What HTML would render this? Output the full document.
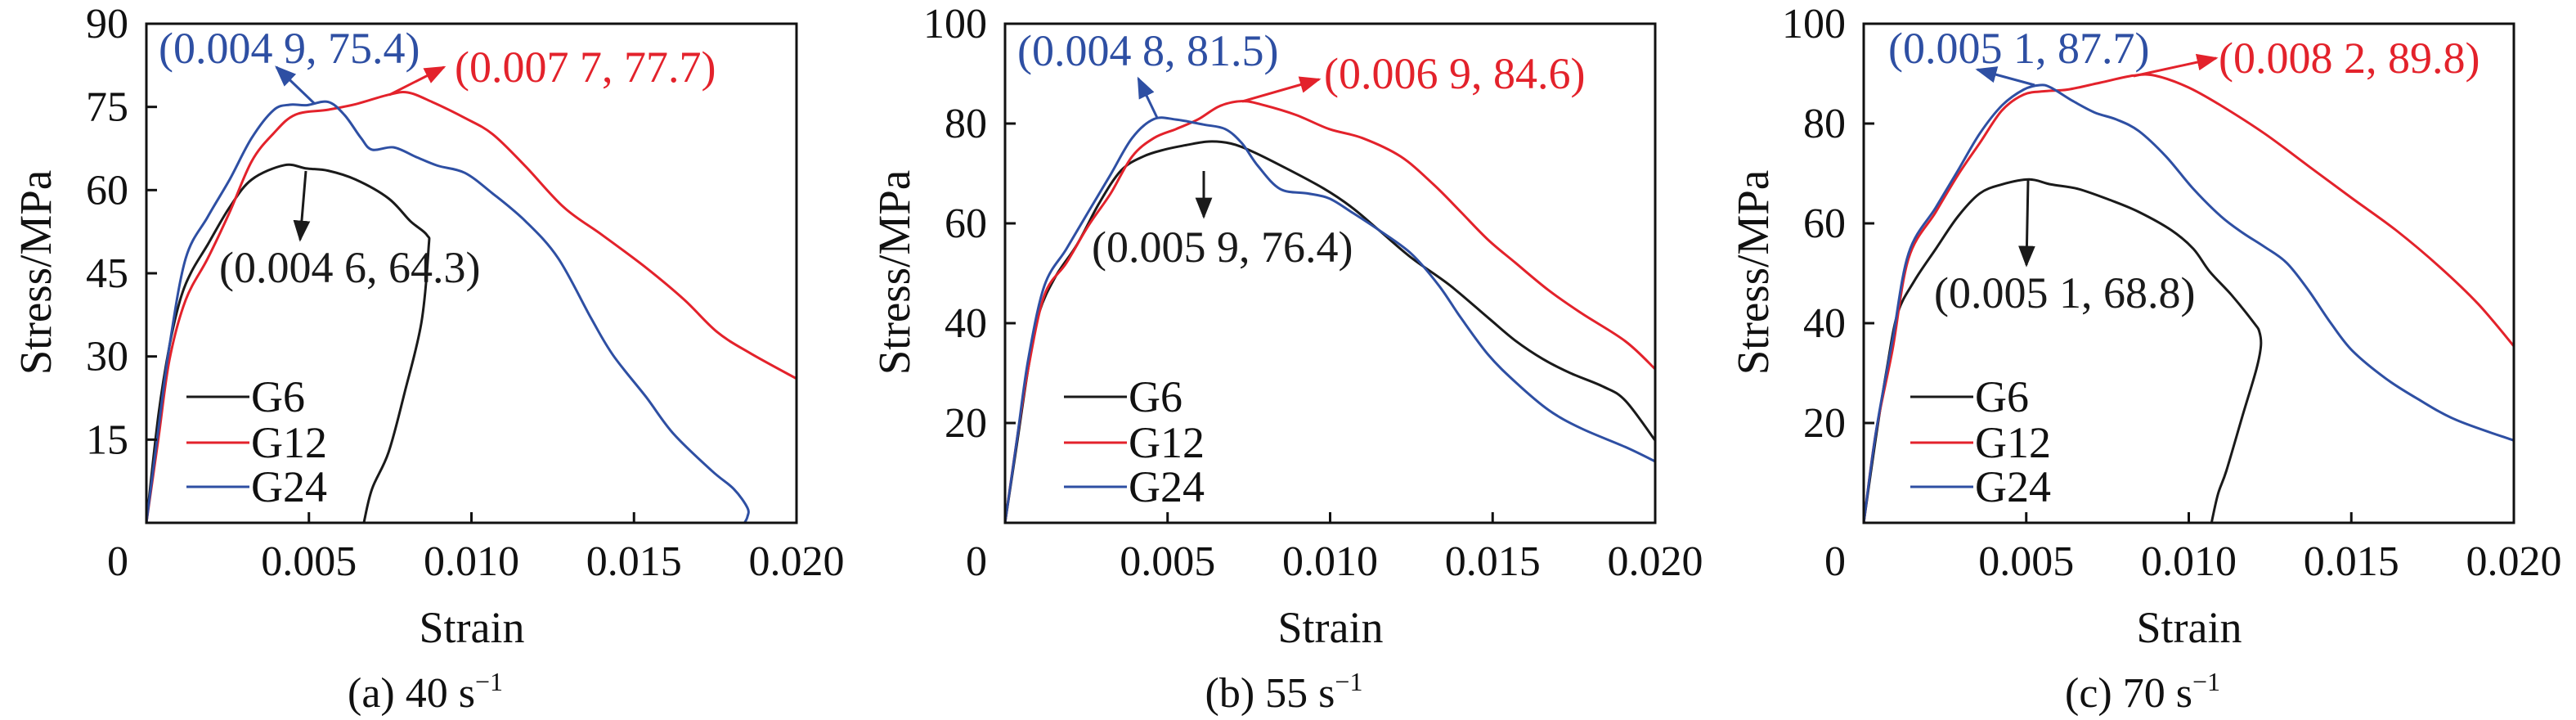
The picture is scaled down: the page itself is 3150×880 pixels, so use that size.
<!DOCTYPE html>
<html><head><meta charset="utf-8"><style>
html,body{margin:0;padding:0;background:#fff;}
svg, svg text{font-family:"Liberation Serif","DejaVu Serif","Times New Roman",serif;}
svg{display:block;}
</style></head><body>
<svg id="chart" width="3150" height="880" viewBox="0 0 3150 880" xmlns="http://www.w3.org/2000/svg" font-family="Liberation Serif, DejaVu Serif, serif"></svg>
<script>
const panelTitles = ["(a) 40 s", "(b) 55 s", "(c) 70 s"];
const yMaxes = [90, 100, 100];
const yTicksA = [15, 30, 45, 60, 75, 90];
const yTicksBC = [20, 40, 60, 80, 100];
const xTicks = [0.005, 0.010, 0.015, 0.020];
const xTickLabels = ["0.005", "0.010", "0.015", "0.020"];
const seriesNames = ["G6", "G12", "G24"];
const seriesColors = ["#1a1a1a", "#e3222b", "#2e4fa3"];

const a_G6 = [[0,0],[0.00037,19.4],[0.00071,31.9],[0.00104,40.2],[0.00138,45.2],[0.00189,50.2],[0.00256,56.9],[0.00324,61.9],[0.00425,64.5],[0.00492,63.9],[0.00559,63.5],[0.00644,61.9],[0.00745,58.5],[0.00812,54.4],[0.00863,51.9],[0.00868,49.4],[0.00846,36.1],[0.00795,23.6],[0.00745,12.7],[0.00694,6.1],[0.00669,0]];
const a_G12 = [[0,0],[0.00037,15.2],[0.00071,29.4],[0.00121,40.2],[0.00189,47.7],[0.00256,56.0],[0.00324,65.2],[0.00391,70.2],[0.00458,73.6],[0.00559,74.5],[0.00644,75.5],[0.00745,77.2],[0.00804,77.6],[0.00879,75.9],[0.00980,73.0],[0.01065,70.1],[0.01166,64.3],[0.01284,56.9],[0.01402,51.9],[0.01537,46.0],[0.01655,40.2],[0.01756,34.4],[0.01857,30.6],[0.02,26.0]];
const a_G24 = [[0,0],[0.00037,16.9],[0.00071,31.9],[0.00121,47.7],[0.00189,55.2],[0.00256,61.9],[0.00324,69.4],[0.00391,74.4],[0.00441,75.4],[0.00492,75.3],[0.00559,75.9],[0.00610,73.5],[0.00660,69.4],[0.00694,67.3],[0.00761,67.7],[0.00829,66.0],[0.00896,64.4],[0.00980,63.1],[0.01065,59.4],[0.01166,54.4],[0.01267,47.7],[0.01368,36.9],[0.01436,30.2],[0.01537,22.7],[0.01621,16.1],[0.01739,9.4],[0.01807,6.1],[0.01849,2.7],[0.01849,1.1],[0.01840,0]];
const b_G6 = [[0,0],[0.00037,16.0],[0.00071,30.8],[0.00104,41.9],[0.00155,49.3],[0.00222,55.8],[0.00290,64.1],[0.00357,70.6],[0.00425,73.4],[0.00492,74.8],[0.00559,75.7],[0.00627,76.4],[0.00694,76.0],[0.00761,74.4],[0.00863,71.1],[0.00980,67.0],[0.01065,63.3],[0.01149,58.7],[0.01250,53.1],[0.01368,47.6],[0.01486,41.1],[0.01570,36.5],[0.01655,32.8],[0.01739,30.0],[0.01840,27.3],[0.01908,24.5],[0.02,16.5]];
const b_G12 = [[0,0],[0.00037,16.9],[0.00071,30.8],[0.00121,45.6],[0.00189,52.1],[0.00256,59.5],[0.00324,65.9],[0.00391,73.4],[0.00458,77.1],[0.00526,78.9],[0.00593,80.8],[0.00660,83.5],[0.00728,84.5],[0.00795,83.7],[0.00896,81.7],[0.00997,78.9],[0.01099,77.1],[0.01217,73.4],[0.01318,67.8],[0.01402,62.3],[0.01486,56.7],[0.01570,52.1],[0.01672,46.6],[0.01773,42.0],[0.01908,36.4],[0.02,30.8]];
const b_G24 = [[0,0],[0.00037,16.9],[0.00071,32.6],[0.00121,47.5],[0.00189,54.9],[0.00256,62.3],[0.00324,69.7],[0.00391,77.1],[0.00458,80.9],[0.00526,80.8],[0.00610,79.8],[0.00677,78.9],[0.00728,76.1],[0.00778,71.5],[0.00846,66.9],[0.00930,66.0],[0.00997,65.0],[0.01065,62.3],[0.01149,58.7],[0.01250,53.9],[0.01335,47.5],[0.01402,41.1],[0.01486,33.7],[0.01570,28.2],[0.01672,22.6],[0.01773,18.9],[0.01908,15.2],[0.02,12.3]];
const c_G6 = [[0,0],[0.00037,16.9],[0.00071,30.8],[0.00104,41.9],[0.00155,48.4],[0.00222,54.9],[0.00290,61.4],[0.00357,66.0],[0.00425,67.8],[0.00509,68.8],[0.00576,67.8],[0.00660,66.9],[0.00761,64.6],[0.00846,62.3],[0.00947,58.6],[0.01014,54.9],[0.01065,50.3],[0.01132,45.6],[0.01200,40.1],[0.01217,38.3],[0.01222,35.5],[0.01208,30.8],[0.01166,21.6],[0.01116,10.5],[0.01090,5.8],[0.01070,0]];
const c_G12 = [[0,0],[0.00037,17.9],[0.00088,34.5],[0.00138,53.0],[0.00222,62.3],[0.00290,69.7],[0.00357,76.1],[0.00425,82.6],[0.00492,85.8],[0.00559,86.5],[0.00627,86.8],[0.00728,88.2],[0.00829,89.6],[0.00896,89.6],[0.00997,87.3],[0.01099,83.6],[0.01233,78.0],[0.01368,71.5],[0.01503,65.0],[0.01638,58.6],[0.01773,51.2],[0.01891,43.8],[0.02,35.4]];
const c_G24 = [[0,0],[0.00037,17.9],[0.00088,36.4],[0.00138,54.0],[0.00222,63.2],[0.00290,70.6],[0.00357,78.0],[0.00425,83.6],[0.00492,86.8],[0.00543,87.7],[0.00576,87.2],[0.00644,84.5],[0.00711,82.2],[0.00778,80.8],[0.00846,78.5],[0.00930,73.4],[0.01014,66.9],[0.01099,61.4],[0.01166,58.1],[0.01233,55.3],[0.01301,52.1],[0.01368,46.6],[0.01436,40.1],[0.01503,34.5],[0.01604,29.0],[0.01705,24.8],[0.01823,20.6],[0.02,16.5]];

const annA = ["(0.004 6, 64.3)", "(0.007 7, 77.7)", "(0.004 9, 75.4)"];
const annB = ["(0.005 9, 76.4)", "(0.006 9, 84.6)", "(0.004 8, 81.5)"];
const annC = ["(0.005 1, 68.8)", "(0.008 2, 89.8)", "(0.005 1, 87.7)"];

const NS = "http://www.w3.org/2000/svg";
const FONT = "Liberation Serif, DejaVu Serif, serif";
const svg = document.getElementById("chart");
function mk(tag, attrs, parent) {
  const e = document.createElementNS(NS, tag);
  for (const k in attrs) e.setAttribute(k, attrs[k]);
  if (tag === "text") e.setAttribute("font-family", FONT);
  (parent || svg).appendChild(e);
  return e;
}
function smooth(pts) {
  let d = "M" + pts[0][0].toFixed(1) + "," + pts[0][1].toFixed(1);
  for (let i = 0; i < pts.length - 1; i++) {
    const p0 = pts[Math.max(0, i - 1)], p1 = pts[i], p2 = pts[i + 1], p3 = pts[Math.min(pts.length - 1, i + 2)];
    const c1x = p1[0] + (p2[0] - p0[0]) / 6, c1y = p1[1] + (p2[1] - p0[1]) / 6;
    const c2x = p2[0] - (p3[0] - p1[0]) / 6, c2y = p2[1] - (p3[1] - p1[1]) / 6;
    d += " C" + c1x.toFixed(1) + "," + c1y.toFixed(1) + " " + c2x.toFixed(1) + "," + c2y.toFixed(1) + " " + p2[0].toFixed(1) + "," + p2[1].toFixed(1);
  }
  return d;
}
const defs = mk("defs", {});
seriesColors.forEach((c, i) => {
  const m = mk("marker", {id: "ah" + i, viewBox: "0 0 10 10", refX: "9", refY: "5", markerWidth: "26", markerHeight: "26", orient: "auto", markerUnits: "userSpaceOnUse"}, defs);
  mk("path", {d: "M0,1 L10,5 L0,9 Z", fill: c}, m);
});

const panels = [
  {data: [a_G6, a_G12, a_G24], yTicks: yTicksA, ann: annA, legX: 228,
   annPos: [[268, 327], [556, 82], [194, 59]],
   arrows: [[374, 209, 367, 293], [476, 116, 543, 82], [385, 127, 338, 82]]},
  {data: [b_G6, b_G12, b_G24], yTicks: yTicksBC, ann: annB, legX: 251,
   annPos: [[285, 302], [569, 90], [194, 62]],
   arrows: [[422, 209, 422, 265], [469, 124, 563, 97], [365, 144, 342, 96]]},
  {data: [c_G6, c_G12, c_G24], yTicks: yTicksBC, ann: annC, legX: 236,
   annPos: [[265, 358], [613, 71], [209, 59]],
   arrows: [[380, 220, 378, 324], [509, 93, 610, 71], [388, 104, 318, 85]]}
];

panels.forEach((p, pi) => {
  const ox = pi * 1050;
  const L = ox + 179, R = ox + 974, T = 29, B = 639;
  const yMax = yMaxes[pi];
  const xs = v => L + v / 0.02 * (R - L);
  const ys = v => B - v / yMax * (B - T);
  const g = mk("g", {});
  
  

  p.data.forEach((s, si) => {
    const pts = s.map(pt => [xs(pt[0]), ys(pt[1])]);
    const path = mk("path", {d: smooth(pts), fill: "none", stroke: seriesColors[si], "stroke-width": 3, "stroke-linejoin": "round"}, g);
    
    
  });

  const fr = mk("rect", {x: L, y: T, width: R - L, height: B - T, fill: "none", stroke: "#111", "stroke-width": 3}, g);
  
  

  p.yTicks.forEach(v => {
    mk("line", {x1: L, x2: L + 13, y1: ys(v), y2: ys(v), stroke: "#111", "stroke-width": 3}, g);
    const t = mk("text", {x: ox + 157, y: ys(v) + 17, "text-anchor": "end", "font-size": 52, fill: "#111"}, g);
    t.textContent = v;
    
    
  });
  xTicks.forEach((v, i) => {
    mk("line", {x1: xs(v), x2: xs(v), y1: B, y2: B - 13, stroke: "#111", "stroke-width": 3}, g);
    const t = mk("text", {x: xs(v), y: 703, "text-anchor": "middle", "font-size": 52, fill: "#111"}, g);
    t.textContent = xTickLabels[i];
    
    
  });
  const z = mk("text", {x: ox + 144, y: 703, "text-anchor": "middle", "font-size": 52, fill: "#111"}, g);
  z.textContent = "0";
  
  

  const xt = mk("text", {x: ox + 577, y: 785, "text-anchor": "middle", "font-size": 54, fill: "#111"}, g);
  xt.textContent = "Strain";
  
  
  const yt = mk("text", {x: 0, y: 0, "text-anchor": "middle", "font-size": 55, fill: "#111", transform: "translate(" + (ox + 62) + ",333) rotate(-90)"}, g);
  yt.textContent = "Stress/MPa";
  
  

  const cap = mk("text", {x: ox + 520, y: 864, "text-anchor": "middle", "font-size": 52, fill: "#111"}, g);
  cap.textContent = panelTitles[pi];
  const sup = mk("tspan", {dy: -20, "font-size": 32}, cap);
  sup.textContent = "\u22121";
  
  

  const legRows = [485, 541, 595];
  seriesNames.forEach((n, si) => {
    const lx = ox + p.legX;
    mk("line", {x1: lx, x2: lx + 77, y1: legRows[si], y2: legRows[si], stroke: seriesColors[si], "stroke-width": 3}, g);
    const t = mk("text", {x: lx + 79, y: legRows[si] + 18, "font-size": 54, fill: "#111"}, g);
    t.textContent = n;
    
    
  });

  p.ann.forEach((txt, si) => {
    const a = p.arrows[si];
    const ar = mk("line", {x1: ox + a[0], y1: a[1], x2: ox + a[2], y2: a[3], stroke: seriesColors[si], "stroke-width": 3, "marker-end": "url(#ah" + si + ")"}, g);
    
    
    const pos = p.annPos[si];
    const t = mk("text", {x: ox + pos[0], y: pos[1] + 18, "font-size": 54, fill: seriesColors[si]}, g);
    t.textContent = txt;
    
    
  });
});
</script>
</body></html>
